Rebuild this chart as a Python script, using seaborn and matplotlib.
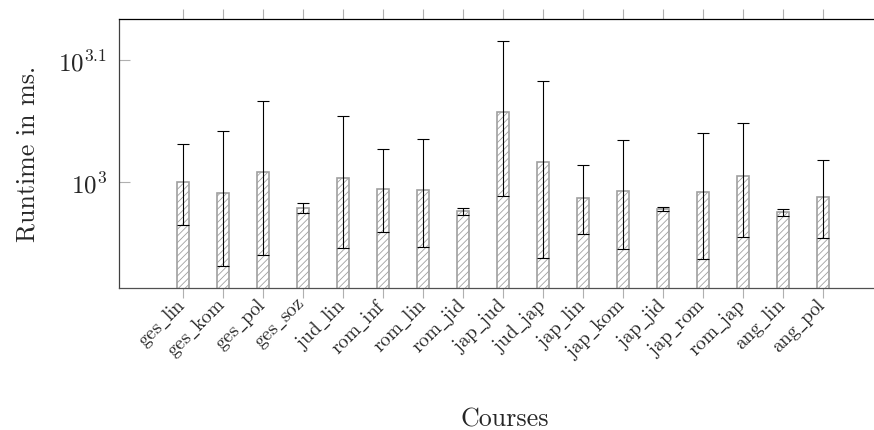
import matplotlib
matplotlib.use("Agg")
import matplotlib.pyplot as plt
import matplotlib.transforms as mtransforms
import numpy as np
import pandas as pd
import seaborn as sns

categories = ["ges_lin", "ges_kom", "ges_pol", "ges_soz", "jud_lin", "rom_inf",
              "rom_lin", "rom_jid", "jap_jud", "jud_jap", "jap_lin", "jap_kom",
              "jap_jid", "jap_rom", "rom_jap", "ang_lin", "ang_pol"]
runtime = [1000, 979.5, 1019.5, 952.8, 1008, 988, 985, 947.3, 1140.7, 1038,
           970.9, 983, 951, 981.3, 1011.4, 946.2, 973.2]
err_upper = [1075.5, 1102, 1166, 962.3, 1133, 1064.6, 1084.9, 952.1, 1304, 1209,
             1033.7, 1083.5, 955.1, 1096.5, 1117.5, 951.5, 1043.5]
err_lower = [923.3, 854.8, 871.5, 943.2, 883, 910.2, 884.8, 939.7, 975, 867,
             907.3, 881.6, 947, 865, 903, 938.5, 901]
ytick_vals = [1000, 10 ** 3.1]
ytick_labels = [r"$10^{3}$", r"$10^{3.1}$"]

sns.set_style("white")
plt.rcParams["mathtext.fontset"] = "cm"
plt.rcParams["font.family"] = ["cmr10", "DejaVu Serif"]
plt.rcParams["axes.formatter.use_mathtext"] = True
plt.rcParams["hatch.color"] = "#a0a0a0"
plt.rcParams["hatch.linewidth"] = 0.6

df = pd.DataFrame({"course": categories, "runtime": runtime})

fig = plt.figure(figsize=(8.74, 4.31), dpi=100)
ax = fig.add_axes([118.5 / 874, 1 - 289 / 431, (891 - 118.5) / 874, 269.5 / 431])

sns.barplot(data=df, x="course", y="runtime", ax=ax, width=0.3,
            color="white", edgecolor="#a0a0a0", linewidth=1.2, hatch="/////",
            errorbar=None, zorder=2)
for p in ax.patches:
    p.set_facecolor("white")
    p.set_hatch("/////")

yerr = np.array([np.array(runtime) - np.array(err_lower),
                 np.array(err_upper) - np.array(runtime)])
ax.errorbar(np.arange(len(categories)), runtime, yerr=yerr, fmt="none",
            ecolor="black", elinewidth=0.8, capsize=4.3, capthick=0.8, zorder=3)

ax.set_yscale("log")
ax.set_ylim(10 ** 2.9136, 10 ** 3.1339)
ax.set_xlim((118.5 - 183) / 40, (891 - 183) / 40)
ax.set_yticks(ytick_vals)
ax.set_yticklabels(ytick_labels, fontsize=18)
ax.yaxis.set_minor_locator(matplotlib.ticker.NullLocator())

ax.set_xticks(np.arange(len(categories)))
labels = [r"$\mathrm{" + c.replace("_", r"\_") + "}$" for c in categories]
ax.set_xticklabels(labels, rotation=45, ha="right", va="center",
                   rotation_mode="anchor", fontsize=14)
offset = mtransforms.ScaledTranslation(-7.7 / 100, -3.5 / 100, fig.dpi_scale_trans)
for lab in ax.get_xticklabels():
    lab.set_transform(lab.get_transform() + offset)

ax.tick_params(axis="x", which="both", direction="out", length=7.5, width=0.8,
               color="#b0b0b0", top=True, bottom=True, pad=2)
ax.tick_params(axis="y", which="major", direction="in", length=8, width=0.8,
               color="#b0b0b0", left=True, right=False, pad=8)

for side in ["top", "left", "bottom", "right"]:
    ax.spines[side].set_visible(True)
    ax.spines[side].set_linewidth(0.9)
ax.spines["top"].set_color("black")
ax.spines["left"].set_color("#404040")
ax.spines["bottom"].set_color("#505050")

ax.set_xlabel("Courses", fontsize=18.7, va="baseline")
ax.xaxis.set_label_coords(0.5, -(427 - 289) / 269.5)
ax.set_ylabel("Runtime in ms.", fontsize=18.7, va="center")
ax.yaxis.set_label_coords((27.5 - 118.5) / 772.5, 0.5)

fig.savefig("out.png", dpi=100)
